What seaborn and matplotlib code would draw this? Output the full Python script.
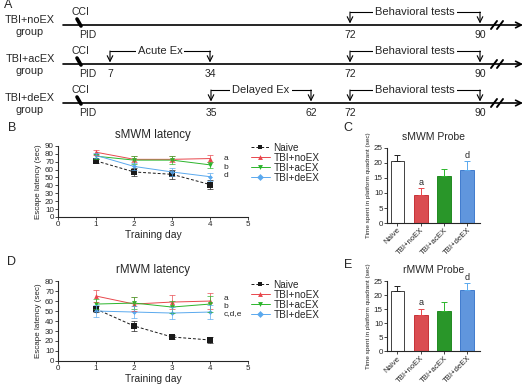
import numpy as np
import pandas as pd
import matplotlib
matplotlib.use("Agg")
import matplotlib.pyplot as plt
import seaborn as sns

# groups and colours
groups = ["Naive", "TBI+noEX", "TBI+acEX", "TBI+deEX"]
line_colors = ["#1a1a1a", "#e8474c", "#2cb52c", "#5aa9ee"]
bar_colors = ["white", "#f2353b", "#17a817", "#4b93f2"]
bar_edges = ["#222222", "#c02025", "#0f800f", "#2e6fc8"]
err_colors = ["#222222", "#e8474c", "#2cb52c", "#5aa9ee"]
days = [1, 2, 3, 4]

# B: sMWM latency (mean, sem) per group
smwm_lat = [[71, 57, 54, 41], [82, 73, 73, 74], [77, 72, 72, 66], [78, 64, 57, 51]]
smwm_sem = [[3, 5, 6, 6], [3, 4, 4, 4], [3, 5, 5, 4], [3, 4, 5, 5]]
smwm_marks = [("a", 74), ("b", 63), ("d", 52)]

# D: rMWM latency
rmwm_lat = [[52, 35, 24, 21], [65, 57, 59, 60], [57, 58, 54, 57], [50, 49, 48, 49]]
rmwm_sem = [[3, 5, 2, 3], [6, 7, 7, 8], [5, 6, 6, 8], [6, 6, 6, 7]]
rmwm_marks = [("a", 63), ("b", 55), ("c,d,e", 47)]

# C / E: probe trials
smwm_probe = [20.5, 9.5, 15.6, 17.8]
smwm_probe_sem = [2.0, 2.0, 2.5, 2.7]
rmwm_probe = [21.7, 13.1, 14.6, 22.0]
rmwm_probe_sem = [1.8, 2.0, 3.0, 2.3]
probe_letters = ["", "a", "", "d"]

# A: timeline schematic
tl_groups = ["TBI+noEX", "TBI+acEX", "TBI+deEX"]
tl_days = [0, 7, 34, 35, 62, 72, 90]
tl_px = [80, 110, 210, 211, 311, 350, 480]
tl_marks = [[72, 90], [7, 34, 72, 90], [35, 62, 72, 90]]
tl_phases = [[("Behavioral tests", 72, 90)],
             [("Acute Ex", 7, 34), ("Behavioral tests", 72, 90)],
             [("Delayed Ex", 35, 62), ("Behavioral tests", 72, 90)]]
tl_rows = [25, 64, 103]

sns.set_style("ticks")
plt.rcParams["font.family"] = ["Liberation Sans", "DejaVu Sans"]

fig = plt.figure(figsize=(5.28, 3.84), dpi=100)

# full-figure overlay for schematic and panel letters
ov = fig.add_axes([0, 0, 1, 1])
ov.set_xlim(0, 528)
ov.set_ylim(384, 0)
ov.axis("off")


def dx(day):
    return np.interp(day, tl_days, tl_px)


for row, (name, marks, phases) in enumerate(zip(tl_groups, tl_marks, tl_phases)):
    y = tl_rows[row]
    ov.annotate("", xy=(523, y), xytext=(63, y),
                arrowprops=dict(arrowstyle="->", lw=1.2, color="black",
                                shrinkA=0, shrinkB=0))
    for sx in (494, 500):
        ov.plot([sx - 3, sx + 3], [y + 4, y - 4], color="black", lw=1.4)
    ov.text(30, y + 1, name + "\ngroup", ha="center", va="center",
            fontsize=7.8, linespacing=1.15)
    ov.text(80, y - 13, "CCI", ha="center", va="center", fontsize=7.5)
    ov.text(88, y + 10, "PID", ha="center", va="center", fontsize=7.5)
    ov.plot([77, 81], [y - 6, y + 1], color="black", lw=2.6, solid_capstyle="round")
    for d in marks:
        ov.text(dx(d), y + 10, str(d), ha="center", va="center", fontsize=7.5)
    for label, d0, d1 in phases:
        x0, x1 = dx(d0), dx(d1)
        top = y - 13
        ov.plot([x0, x1], [top, top], color="black", lw=0.8)
        for xx in (x0, x1):
            ov.annotate("", xy=(xx, y - 1.5), xytext=(xx, top),
                        arrowprops=dict(arrowstyle="->", lw=0.8, color="black",
                                        shrinkA=0, shrinkB=0))
        ov.text((x0 + x1) / 2, top, label, ha="center", va="center", fontsize=8,
                bbox=dict(facecolor="white", edgecolor="none", pad=1.5))

for lab, (lx, ly) in zip("ABCDE", [(8, 5), (12, 128), (348, 128), (12, 262), (348, 265)]):
    ov.text(lx, ly, lab, fontsize=9, ha="center", va="center")


def latency_panel(rect, means, sems, ymax, title, marks, leg_y):
    ax = fig.add_axes(rect)
    df = pd.DataFrame([(g, d, m) for g, ms in zip(groups, means) for d, m in zip(days, ms)],
                      columns=["group", "day", "lat"])
    sns.lineplot(data=df, x="day", y="lat", hue="group", style="group",
                 palette=dict(zip(groups, line_colors)),
                 markers=dict(zip(groups, ["s", "^", "v", "D"])),
                 dashes=dict(zip(groups, [(3, 2), "", "", ""])),
                 markersize=3.5, markeredgewidth=0, linewidth=0.7, ax=ax)
    for line, ms in zip(ax.lines[:4], [4.5, 3.5, 3.5, 2.5]):
        line.set_markersize(ms)
    for ms, es, c in zip(means, sems, line_colors):
        ax.errorbar(days, ms, yerr=es, fmt="none", ecolor=c, elinewidth=0.6,
                    capsize=2, capthick=0.6, alpha=0.8)
    for txt, yy in marks:
        ax.text(4.35, yy, txt, fontsize=6, va="center")
    ax.set_xlim(0, 5)
    ax.set_ylim(0, ymax)
    ax.set_xticks(range(6))
    ax.set_yticks(range(0, ymax + 1, 10))
    ax.tick_params(labelsize=5.8, length=2, width=0.6, pad=1)
    ax.set_xlabel("Training day", fontsize=7.5, labelpad=1)
    ax.set_ylabel("Escape latency (sec)", fontsize=5.8, labelpad=2)
    ax.set_title(title, fontsize=8.3, pad=6)
    for sp in ax.spines.values():
        sp.set_linewidth(0.8)
    sns.despine(ax=ax)
    sns.move_legend(ax, "upper left", bbox_to_anchor=(0.965, leg_y), frameon=False,
                    title=None, fontsize=7.2, handlelength=1.9, handletextpad=0.4,
                    labelspacing=0.0)
    return ax


def probe_panel(rect, vals, sems, title):
    ax = fig.add_axes(rect)
    df = pd.DataFrame({"group": groups, "time": vals})
    sns.barplot(data=df, x="group", y="time", hue="group",
                palette=dict(zip(groups, bar_colors)), width=0.6,
                errorbar=None, legend=False, ax=ax)
    for p, ec in zip(ax.patches, bar_edges):
        p.set_edgecolor(ec)
        p.set_linewidth(0.6)
    for i, (v, e, c, t) in enumerate(zip(vals, sems, err_colors, probe_letters)):
        ax.errorbar([i], [v], yerr=[[0], [e]], fmt="none", ecolor=c,
                    elinewidth=0.7, capsize=2.5, capthick=0.7)
        if t:
            ax.text(i, v + e + 0.6, t, ha="center", va="bottom", fontsize=6.5,
                    clip_on=False)
    ax.set_xlim(-0.45, 3.55)
    ax.set_ylim(0, 25)
    ax.set_yticks(range(0, 26, 5))
    ax.set_xlabel("")
    ax.set_ylabel("Time spent in platform quadrant (sec)", fontsize=4.6, labelpad=2)
    ax.set_xticks(range(4))
    ax.set_xticklabels(groups, rotation=45, ha="right", rotation_mode="anchor")
    ax.tick_params(axis="x", labelsize=5.6, length=2, width=0.6, pad=0.5)
    ax.tick_params(axis="y", labelsize=5.8, length=2, width=0.6, pad=1)
    ax.set_title(title, fontsize=7.5, pad=6)
    for sp in ax.spines.values():
        sp.set_linewidth(0.8)
    sns.despine(ax=ax)
    return ax


latency_panel([0.110, 0.435, 0.360, 0.185], smwm_lat, smwm_sem, 90, "sMWM latency", smwm_marks, 1.17)
latency_panel([0.110, 0.060, 0.360, 0.208], rmwm_lat, rmwm_sem, 80, "rMWM latency", rmwm_marks, 1.13)
probe_panel([0.733, 0.419, 0.176, 0.196], smwm_probe, smwm_probe_sem, "sMWM Probe")
probe_panel([0.733, 0.085, 0.176, 0.182], rmwm_probe, rmwm_probe_sem, "rMWM Probe")

fig.savefig("out.png", dpi=100)
